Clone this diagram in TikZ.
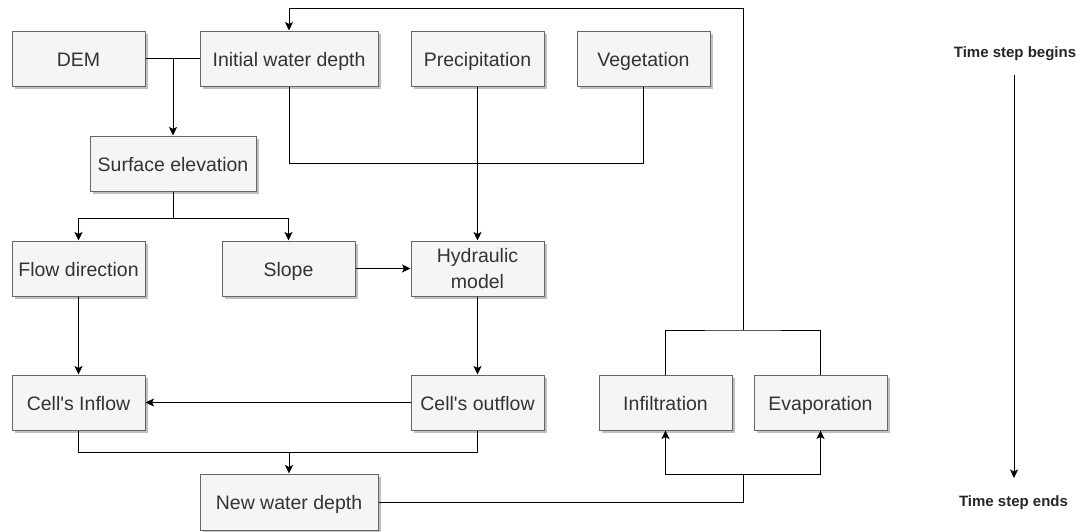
\documentclass[tikz,border=0pt]{standalone}
\usepackage{fontspec}
\setmainfont{Liberation Sans}
\usetikzlibrary{arrows.meta,shadows}
\definecolor{boxfill}{HTML}{F5F5F5}
\definecolor{boxline}{HTML}{666666}
\definecolor{txt}{HTML}{333333}
\begin{document}
\begin{tikzpicture}[x=1pt,y=-1pt,
  box/.style={draw=boxline,fill=boxfill,line width=1pt,minimum height=55pt,
    inner sep=2pt,text=txt,font=\fontsize{19.5}{23}\selectfont,align=center,
    text height=19pt,text depth=4pt,
    drop shadow={shadow xshift=3pt,shadow yshift=-3pt,opacity=0.35,fill=black!70}},
  twoline/.style={text height=,text depth=,font=\fontsize{19.5}{26}\selectfont},
  conn/.style={draw=black,line width=1pt},
  arr/.style={conn,-{Stealth[length=8.5pt,width=8pt,inset=2pt]}},
  lbl/.style={font=\fontsize{15}{18}\selectfont\bfseries,text=black!85}]
\useasboundingbox (0,0) rectangle (1081,531);
\fill[white] (0,0) rectangle (1081,531);
% boxes
\node[box,minimum width=133pt] (dem) at (78.5,58.5) {DEM};
\node[box,minimum width=178pt] (init) at (289,58.5) {Initial water depth};
\node[box,minimum width=133pt] (prec) at (477.5,58.5) {Precipitation};
\node[box,minimum width=133pt] (veg) at (643.5,58.5) {Vegetation};
\node[box,minimum width=166pt] (surf) at (173,163.5) {Surface elevation};
\node[box,minimum width=133pt] (flow) at (78.5,268.5) {Flow direction};
\node[box,minimum width=133pt] (slope) at (288.5,268.5) {Slope};
\node[box,twoline,minimum width=133pt] (hyd) at (477.5,268.5) {Hydraulic\\model};
\node[box,minimum width=133pt] (inflow) at (78.5,402.5) {Cell\textquotesingle s Inflow};
\node[box,minimum width=133pt] (outflow) at (477.5,402.5) {Cell\textquotesingle s outflow};
\node[box,minimum width=133pt] (infil) at (665.5,402.5) {Infiltration};
\node[box,minimum width=133pt] (evap) at (820.5,402.5) {Evaporation};
\node[box,minimum width=178pt,minimum height=56pt] (newd) at (289,502) {New water depth};
% junction coordinates
\coordinate (j1) at (173,58.5);
\coordinate (j2) at (173,218);
\coordinate (j3) at (289,452);
\coordinate (j4) at (743,474);
\coordinate (j5) at (743,330);
\coordinate (top) at (743,8);
% connectors
\draw[conn] (dem.east) -- (init.west);
\draw[arr] (j1) -- (surf.north);
\draw[conn] (init.south) |- (veg.south |- 0,163) -- (veg.south);
\draw[arr] (prec.south) -- (hyd.north);
\draw[conn] (surf.south) -- (j2);
\draw[arr] (j2) -| (flow.north);
\draw[arr] (j2) -| (slope.north);
\draw[arr] (slope.east) -- (hyd.west);
\draw[arr] (flow.south) -- (inflow.north);
\draw[arr] (hyd.south) -- (outflow.north);
\draw[arr] (outflow.west) -- (inflow.east);
\draw[conn] (inflow.south) |- (j3) -| (outflow.south);
\draw[arr] (j3) -- (newd.north);
\draw[conn] (newd.east) -| (j4);
\draw[arr] (j4) -| (infil.south);
\draw[arr] (j4) -| (evap.south);
\draw[conn] (infil.north) |- (j5) -| (evap.north);
\draw[conn] (j5) -- (top);
\draw[arr] (top) -| (init.north);
% time axis
\node[lbl] (tb) at (1015,54) {Time step begins};
\node[lbl] (te) at (1013.5,503) {Time step ends};
\coordinate (t1) at (1014,75);
\coordinate (t2) at (1014,478);
\draw[arr] (t1) -- (t2);
\end{tikzpicture}
\end{document}
